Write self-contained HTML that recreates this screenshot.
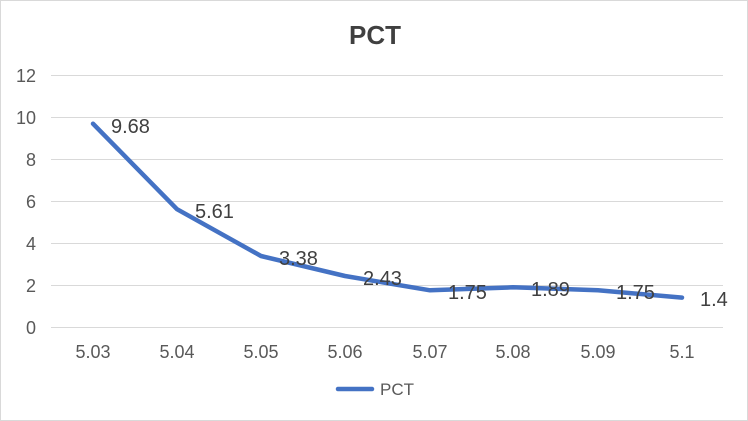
<!DOCTYPE html>
<html><head><meta charset="utf-8"><style>
html,body{margin:0;padding:0;background:#fff;}
svg{display:block;font-family:"Liberation Sans",Arial,sans-serif;}
</style></head><body>
<svg width="748" height="421" viewBox="0 0 748 421">
<rect x="0.5" y="0.5" width="747" height="420" fill="#fff" stroke="#d9d9d9"/>
<text x="375" y="44" text-anchor="middle" font-size="26" font-weight="bold" fill="#404040">PCT</text>
<g stroke="#d9d9d9" stroke-width="1">
<line x1="51" y1="75.5" x2="723" y2="75.5"/>
<line x1="51" y1="117.5" x2="723" y2="117.5"/>
<line x1="51" y1="159.5" x2="723" y2="159.5"/>
<line x1="51" y1="201.5" x2="723" y2="201.5"/>
<line x1="51" y1="243.5" x2="723" y2="243.5"/>
<line x1="51" y1="285.5" x2="723" y2="285.5"/>
<line x1="51" y1="327.5" x2="723" y2="327.5"/>
</g>
<g font-size="18" fill="#595959" text-anchor="end">
<text x="36" y="82">12</text>
<text x="36" y="124">10</text>
<text x="36" y="166">8</text>
<text x="36" y="208">6</text>
<text x="36" y="250">4</text>
<text x="36" y="292">2</text>
<text x="36" y="334">0</text>
</g>
<g font-size="18" fill="#595959" text-anchor="middle">
<text x="93" y="358">5.03</text>
<text x="177" y="358">5.04</text>
<text x="261" y="358">5.05</text>
<text x="345" y="358">5.06</text>
<text x="430" y="358">5.07</text>
<text x="513" y="358">5.08</text>
<text x="598" y="358">5.09</text>
<text x="682" y="358">5.1</text>
</g>
<polyline fill="none" stroke="#4472c4" stroke-width="4.5" stroke-linejoin="round" stroke-linecap="round"
points="93,123.7 177,209.2 261,256 345,276 430,290.3 513,287.3 598,290.3 682,297.6"/>
<g font-size="20" fill="#404040">
<text x="111" y="133">9.68</text>
<text x="195" y="218">5.61</text>
<text x="279" y="265">3.38</text>
<text x="363" y="285">2.43</text>
<text x="448" y="299">1.75</text>
<text x="531" y="296">1.89</text>
<text x="616" y="299">1.75</text>
<text x="700" y="306">1.4</text>
</g>
<line x1="338" y1="389" x2="372" y2="389" stroke="#4472c4" stroke-width="4.5" stroke-linecap="round"/>
<text x="380" y="395" font-size="17" fill="#595959">PCT</text>
</svg>
</body></html>
